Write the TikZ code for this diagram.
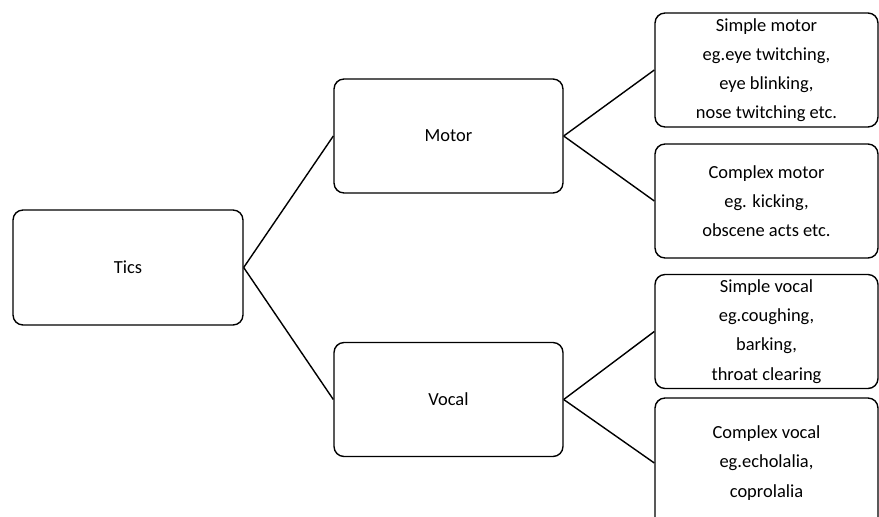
\documentclass[tikz,border=0pt]{standalone}
\usepackage{fontspec}
\setmainfont{Carlito}
\usepackage{tikz}
\usetikzlibrary{calc}
\def\thickness{0.8pt}
\tikzset{box/.style={draw, rounded corners=0.2cm, line width=\thickness, align=center,
    font=\fontsize{10.5}{16.6}\selectfont, inner sep=0pt}}
\tikzset{midbox/.style={box, minimum width=4.58cm, minimum height=2.28cm}}
\tikzset{leafbox/.style={box, minimum width=4.46cm, minimum height=2.28cm}}
\tikzset{link/.style={line width=\thickness}}

\begin{document}
\begin{tikzpicture} [x=0.02cm,y=-0.02cm]

\path[use as bounding box] (0,0) rectangle (879,517);

\node [midbox, minimum width=4.6cm, minimum height=2.3cm] (tics) at (128,267.5) {Tics};
\node [midbox] (motor) at (448.5,136) {Motor};
\node [midbox] (vocal) at (448.5,399.5) {Vocal};

\node [leafbox] (simple_motor) at (766.5,70) {Simple motor\\eg.eye twitching,\\eye blinking,\\nose twitching etc.};
\node [leafbox] (complex_motor) at (766.5,201) {Complex motor\\eg. kicking,\\obscene acts etc.};
\node [leafbox] (simple_vocal) at (766.5,331.5) {Simple vocal\\eg.coughing,\\barking,\\throat clearing};
\node [leafbox, minimum height=2.6cm] (complex_vocal) at (766.5,463) {Complex vocal\\eg.echolalia,\\coprolalia};

\draw[link] (tics.east) to (motor.west);
\draw[link] (tics.east) to (vocal.west);
\draw[link] (motor.east) to (simple_motor.west);
\draw[link] (motor.east) to (complex_motor.west);
\draw[link] (vocal.east) to (simple_vocal.west);
\draw[link] (vocal.east) to (complex_vocal.west);

\end{tikzpicture}
\end{document}
